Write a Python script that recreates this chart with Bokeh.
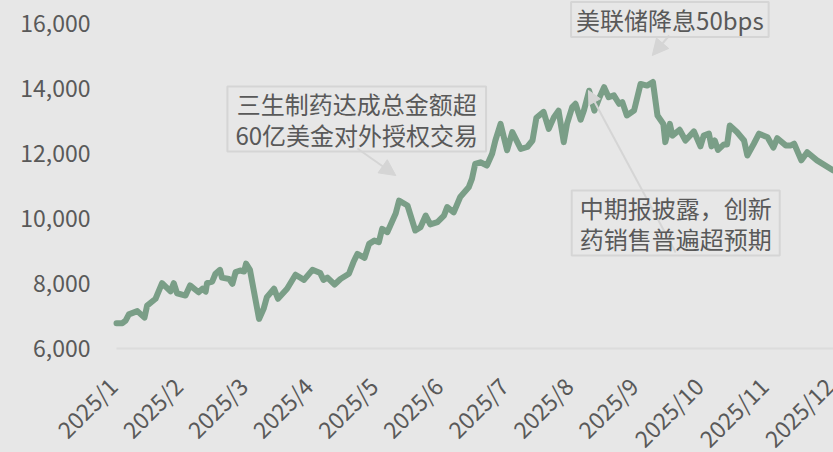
import math
from bokeh.plotting import figure
from bokeh.core.properties import value
from bokeh.models import (Range1d, Label, LabelSet, Arrow, NormalHead,
                          GlobalInlineStyleSheet, ColumnDataSource)
from bokeh.embed import file_html
from bokeh.resources import INLINE

# ---------------- data ----------------
month_labels = ["2025/1", "2025/2", "2025/3", "2025/4", "2025/5", "2025/6",
                "2025/7", "2025/8", "2025/9", "2025/10", "2025/11", "2025/12"]
month_ticks = [0, 1, 2, 3, 4, 5, 6, 7, 8, 9, 10, 11]
y_ticks = [6000, 8000, 10000, 12000, 14000, 16000]

# position in months since start of 2025/1 (trading-day axis)
month_pos = [0.00, 0.09, 0.14, 0.19, 0.32, 0.43, 0.47, 0.60, 0.70, 0.83, 0.88, 0.93,
             1.06, 1.13, 1.26, 1.32, 1.37, 1.39, 1.47, 1.52, 1.59, 1.62, 1.73, 1.78,
             1.83, 1.90, 1.96, 1.99, 2.05, 2.19, 2.26, 2.31, 2.42, 2.48, 2.62, 2.75,
             2.88, 3.01, 3.13, 3.18, 3.24, 3.35, 3.44, 3.57, 3.64, 3.70, 3.81, 3.88,
             3.96, 4.03, 4.08, 4.16, 4.29, 4.34, 4.47, 4.59, 4.67, 4.75, 4.82, 4.93,
             5.03, 5.08, 5.18, 5.28, 5.41, 5.46, 5.51, 5.59, 5.69, 5.77, 5.82, 5.90,
             6.00, 6.08, 6.21, 6.31, 6.39, 6.45, 6.56, 6.64, 6.72, 6.79, 6.87, 6.92,
             7.00, 7.05, 7.13, 7.18, 7.26, 7.34, 7.41, 7.49, 7.56, 7.64, 7.72, 7.77,
             7.84, 7.95, 8.05, 8.15, 8.24, 8.31, 8.40, 8.43, 8.50, 8.54, 8.65, 8.74,
             8.87, 8.97, 9.02, 9.10, 9.14, 9.19, 9.24, 9.33, 9.38, 9.42, 9.53, 9.64,
             9.69, 9.79, 9.87, 10.00, 10.09, 10.15, 10.28, 10.36, 10.41, 10.52, 10.61,
             10.76, 11.01]

index_values = [6780, 6780, 6860, 7050, 7150, 6950, 7320, 7530, 8010, 7760, 8010, 7700,
                7630, 7940, 7730, 7840, 7750, 8010, 8060, 8300, 8420, 8180, 8140, 7990,
                8350, 8400, 8370, 8610, 8420, 6910, 7220, 7580, 7840, 7530, 7840, 8270,
                8110, 8420, 8320, 8110, 8180, 7970, 8140, 8300, 8660, 8910, 8790, 9220,
                9320, 9270, 9680, 9580, 10160, 10550, 10400, 9630, 9730, 10090, 9820, 9890,
                10090, 10350, 10190, 10660, 10960, 11220, 11680, 11730, 11630, 11990, 12400, 12910,
                12100, 12660, 12140, 12200, 12400, 13100, 13280, 12760, 13120, 13320, 12350, 12910,
                13430, 13530, 13040, 13320, 13930, 13320, 13680, 14040, 13730, 13790, 13530, 13580,
                13170, 13320, 14140, 14090, 14200, 13170, 12910, 12350, 12910, 12550, 12730, 12400,
                12680, 12220, 12550, 12610, 12220, 12400, 12110, 12280, 12280, 12860, 12660, 12400,
                11940, 12300, 12610, 12500, 12180, 12470, 12250, 12250, 12300, 11790, 12040,
                11790, 11480]

# ---------------- style ----------------
BG = "#e7e7e7"
TXT = "#595959"
LINE = "#7a9e87"
ANN = "#d5d5d5"
FONT = "Noto Sans CJK SC"

W, H = 833, 452
LEFT_PAD, TOP_PAD, BOTTOM_PAD = 116, 23, 104   # px outside the plotting area
MONTH_PX = 65.1                                # px per month on the date axis
y_lo, y_hi = min(y_ticks), max(y_ticks)
per_px = (y_hi - y_lo) / (H - TOP_PAD - BOTTOM_PAD)
x_end = (W - LEFT_PAD) / MONTH_PX

p = figure(width=W, height=H, output_backend="svg", toolbar_location=None,
           x_range=Range1d(-LEFT_PAD / MONTH_PX, x_end),
           y_range=Range1d(y_lo - BOTTOM_PAD * per_px, y_hi + TOP_PAD * per_px),
           min_border=0)
p.stylesheets = [GlobalInlineStyleSheet(css="html, body { background: %s; }" % BG)]
p.background_fill_color = BG
p.border_fill_color = BG
p.outline_line_color = None
p.xgrid.grid_line_color = None
p.ygrid.grid_line_color = None
p.xaxis.visible = False
p.yaxis.visible = False

# value axis labels
ytick_src = ColumnDataSource(dict(x=[0] * len(y_ticks), y=y_ticks,
                                  text=["{:,}".format(v) for v in y_ticks]))
p.add_layout(LabelSet(x="x", y="y", text="text", source=ytick_src,
                      text_align="right", text_baseline="middle", x_offset=-26,
                      text_font=value(FONT), text_font_size="23px", text_color=TXT))

# date axis: base line plus rotated month labels
p.segment(x0=[month_ticks[0]], y0=[y_lo], x1=[x_end], y1=[y_lo],
          line_color="#dcdcdc", line_width=2)
month_src = ColumnDataSource(dict(x=month_ticks, y=[y_lo] * len(month_ticks),
                                  text=month_labels))
p.add_layout(LabelSet(x="x", y="y", text="text", source=month_src,
                      angle=math.pi / 4, text_align="right", text_baseline="middle",
                      x_offset=-4, y_offset=-33, text_font=value(FONT),
                      text_font_size="23px", text_color=TXT))

p.line(month_pos, index_values, line_color=LINE, line_width=6,
       line_join="round", line_cap="round")

# arrows (behind the boxes' text)
for xs, ys, xe, ye, sz in [(3.70, 12154, 4.29, 11323, 16),
                           (8.49, 15631, 8.23, 15016, 16),
                           (8.59, 8954, 7.25, 13939, 13)]:
    p.add_layout(Arrow(end=NormalHead(size=sz, fill_color=ANN, line_color=ANN),
                       x_start=xs, y_start=ys, x_end=xe, y_end=ye,
                       line_color=ANN, line_width=2))

def boxed(x, y, text, padx):
    return Label(x=x, y=y, text=text, text_font=FONT, text_font_size="24px",
                 text_color=TXT, text_align="center", text_baseline="middle",
                 text_line_height=0.86, border_line_color=ANN, border_line_width=2,
                 background_fill_color=None,
                 padding=dict(left=padx, right=padx, top=0, bottom=0))

p.add_layout(boxed(3.69, 13062, "三生制药达成总金额超\n60亿美金对外授权交易", 8))
p.add_layout(boxed(8.50, 16123, "美联储降息50bps", 5))
p.add_layout(boxed(8.59, 9862, "中期报披露，创新\n药销售普遍超预期", 8))

open("out.html", "w").write(file_html(p, INLINE))
